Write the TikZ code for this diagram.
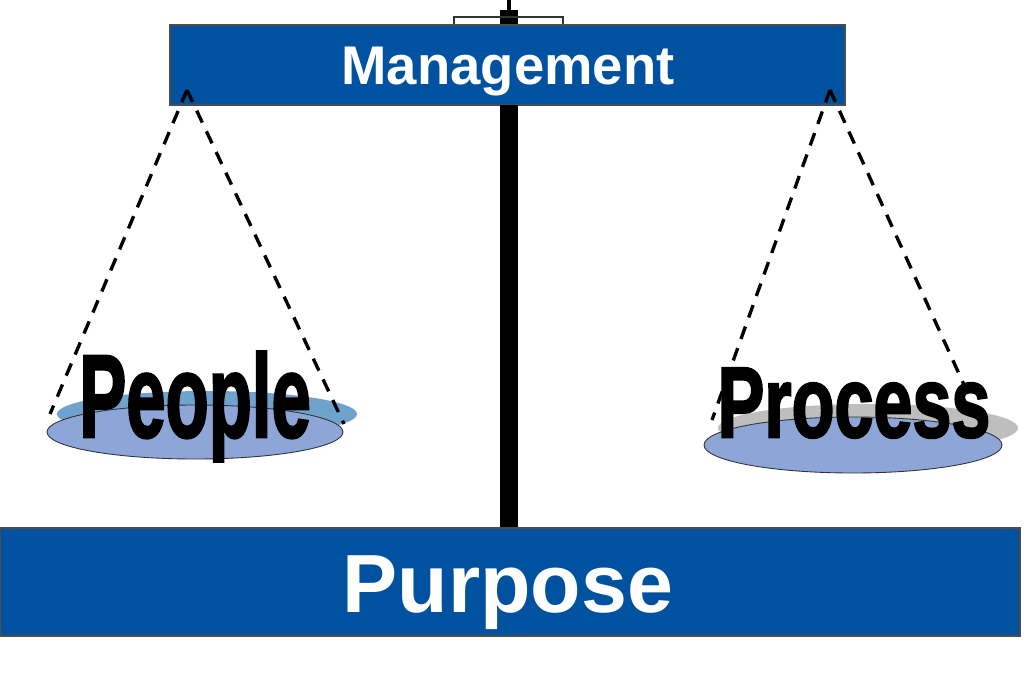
\documentclass[tikz,border=0pt]{standalone}
\usepackage{fontspec}
\usepackage{graphicx}
\setmainfont{Liberation Sans}
\newfontfamily\heavyfont[FakeBold=2.5]{Liberation Sans}
\usetikzlibrary{shapes.geometric}
\definecolor{barblue}{RGB}{0,82,160}
\definecolor{panfill}{RGB}{142,165,216}
\definecolor{blueshadow}{RGB}{112,162,206}
\definecolor{greyshadow}{RGB}{190,190,190}
\def\u{0.02cm}
\begin{document}
\begin{tikzpicture}[x=0.02cm,y=-0.02cm,
  bar/.style={rectangle,fill=barblue,draw=black!70,line width=0.6pt,inner sep=0pt,text=white,font=\bfseries},
  pan/.style={ellipse,fill=panfill,draw=black!80,line width=0.5pt,inner sep=0pt},
  cord/.style={line width=1.9pt,dash pattern=on 7.5pt off 5.5pt,line cap=butt},
  word/.style={inner sep=0pt,text=black}]
\useasboundingbox (0,0) rectangle (1024,686);
% pole
\fill[black] (506.5,0) rectangle (510.5,12);
\fill[black] (500,10) rectangle (518,528);
% bracket
\draw[black!80,line width=0.9pt] (454,33) -- (454,17) -- (563,17) -- (563,33);
% top bar
\node[bar,minimum width={675*\u},minimum height={80*\u}] (mgmt) at (507.5,65) {};
\fill[black] (500,105) rectangle (518,528);
\node[inner sep=0pt,text=white,anchor=base,font=\fontsize{31pt}{31pt}\selectfont\bfseries] (mgmttext) at (508,85) {Management};
% bottom bar
\node[bar,minimum width={1020*\u},minimum height={108*\u}] (purpose) at (510,582) {};
\node[inner sep=0pt,text=white,anchor=base,font=\fontsize{47pt}{47pt}\selectfont\bfseries] (purposetext) at (508,612) {Purpose};
% pans
\fill[blueshadow] (207,414) ellipse (150 and 23);
\node[pan,minimum width={296*\u},minimum height={54*\u}] (lpan) at (195,432) {};
\fill[greyshadow] (868,428) ellipse (150 and 24);
\node[pan,minimum width={298*\u},minimum height={56*\u}] (rpan) at (853,445) {};
% apexes
\coordinate (la) at (187,90);
\coordinate (ra) at (830,90);
\coordinate (lpl) at (50,414);
\coordinate (lpr) at (344,424);
\coordinate (rpl) at (712,420);
\coordinate (rpr) at (970,398);
\draw[cord] (la) -- (lpl);
\draw[cord] (la) -- (lpr);
\draw[cord] (ra) -- (rpl);
\draw[cord] (ra) -- (rpr);
% words
\node[word,anchor=base] (people) at (195,437) {\heavyfont\bfseries\fontsize{67pt}{67pt}\selectfont\scalebox{0.6}[1]{People}};
\node[word,anchor=base] (process) at (854,437) {\heavyfont\bfseries\fontsize{57pt}{57pt}\selectfont\scalebox{0.7}[1]{Process}};
\end{tikzpicture}
\end{document}
